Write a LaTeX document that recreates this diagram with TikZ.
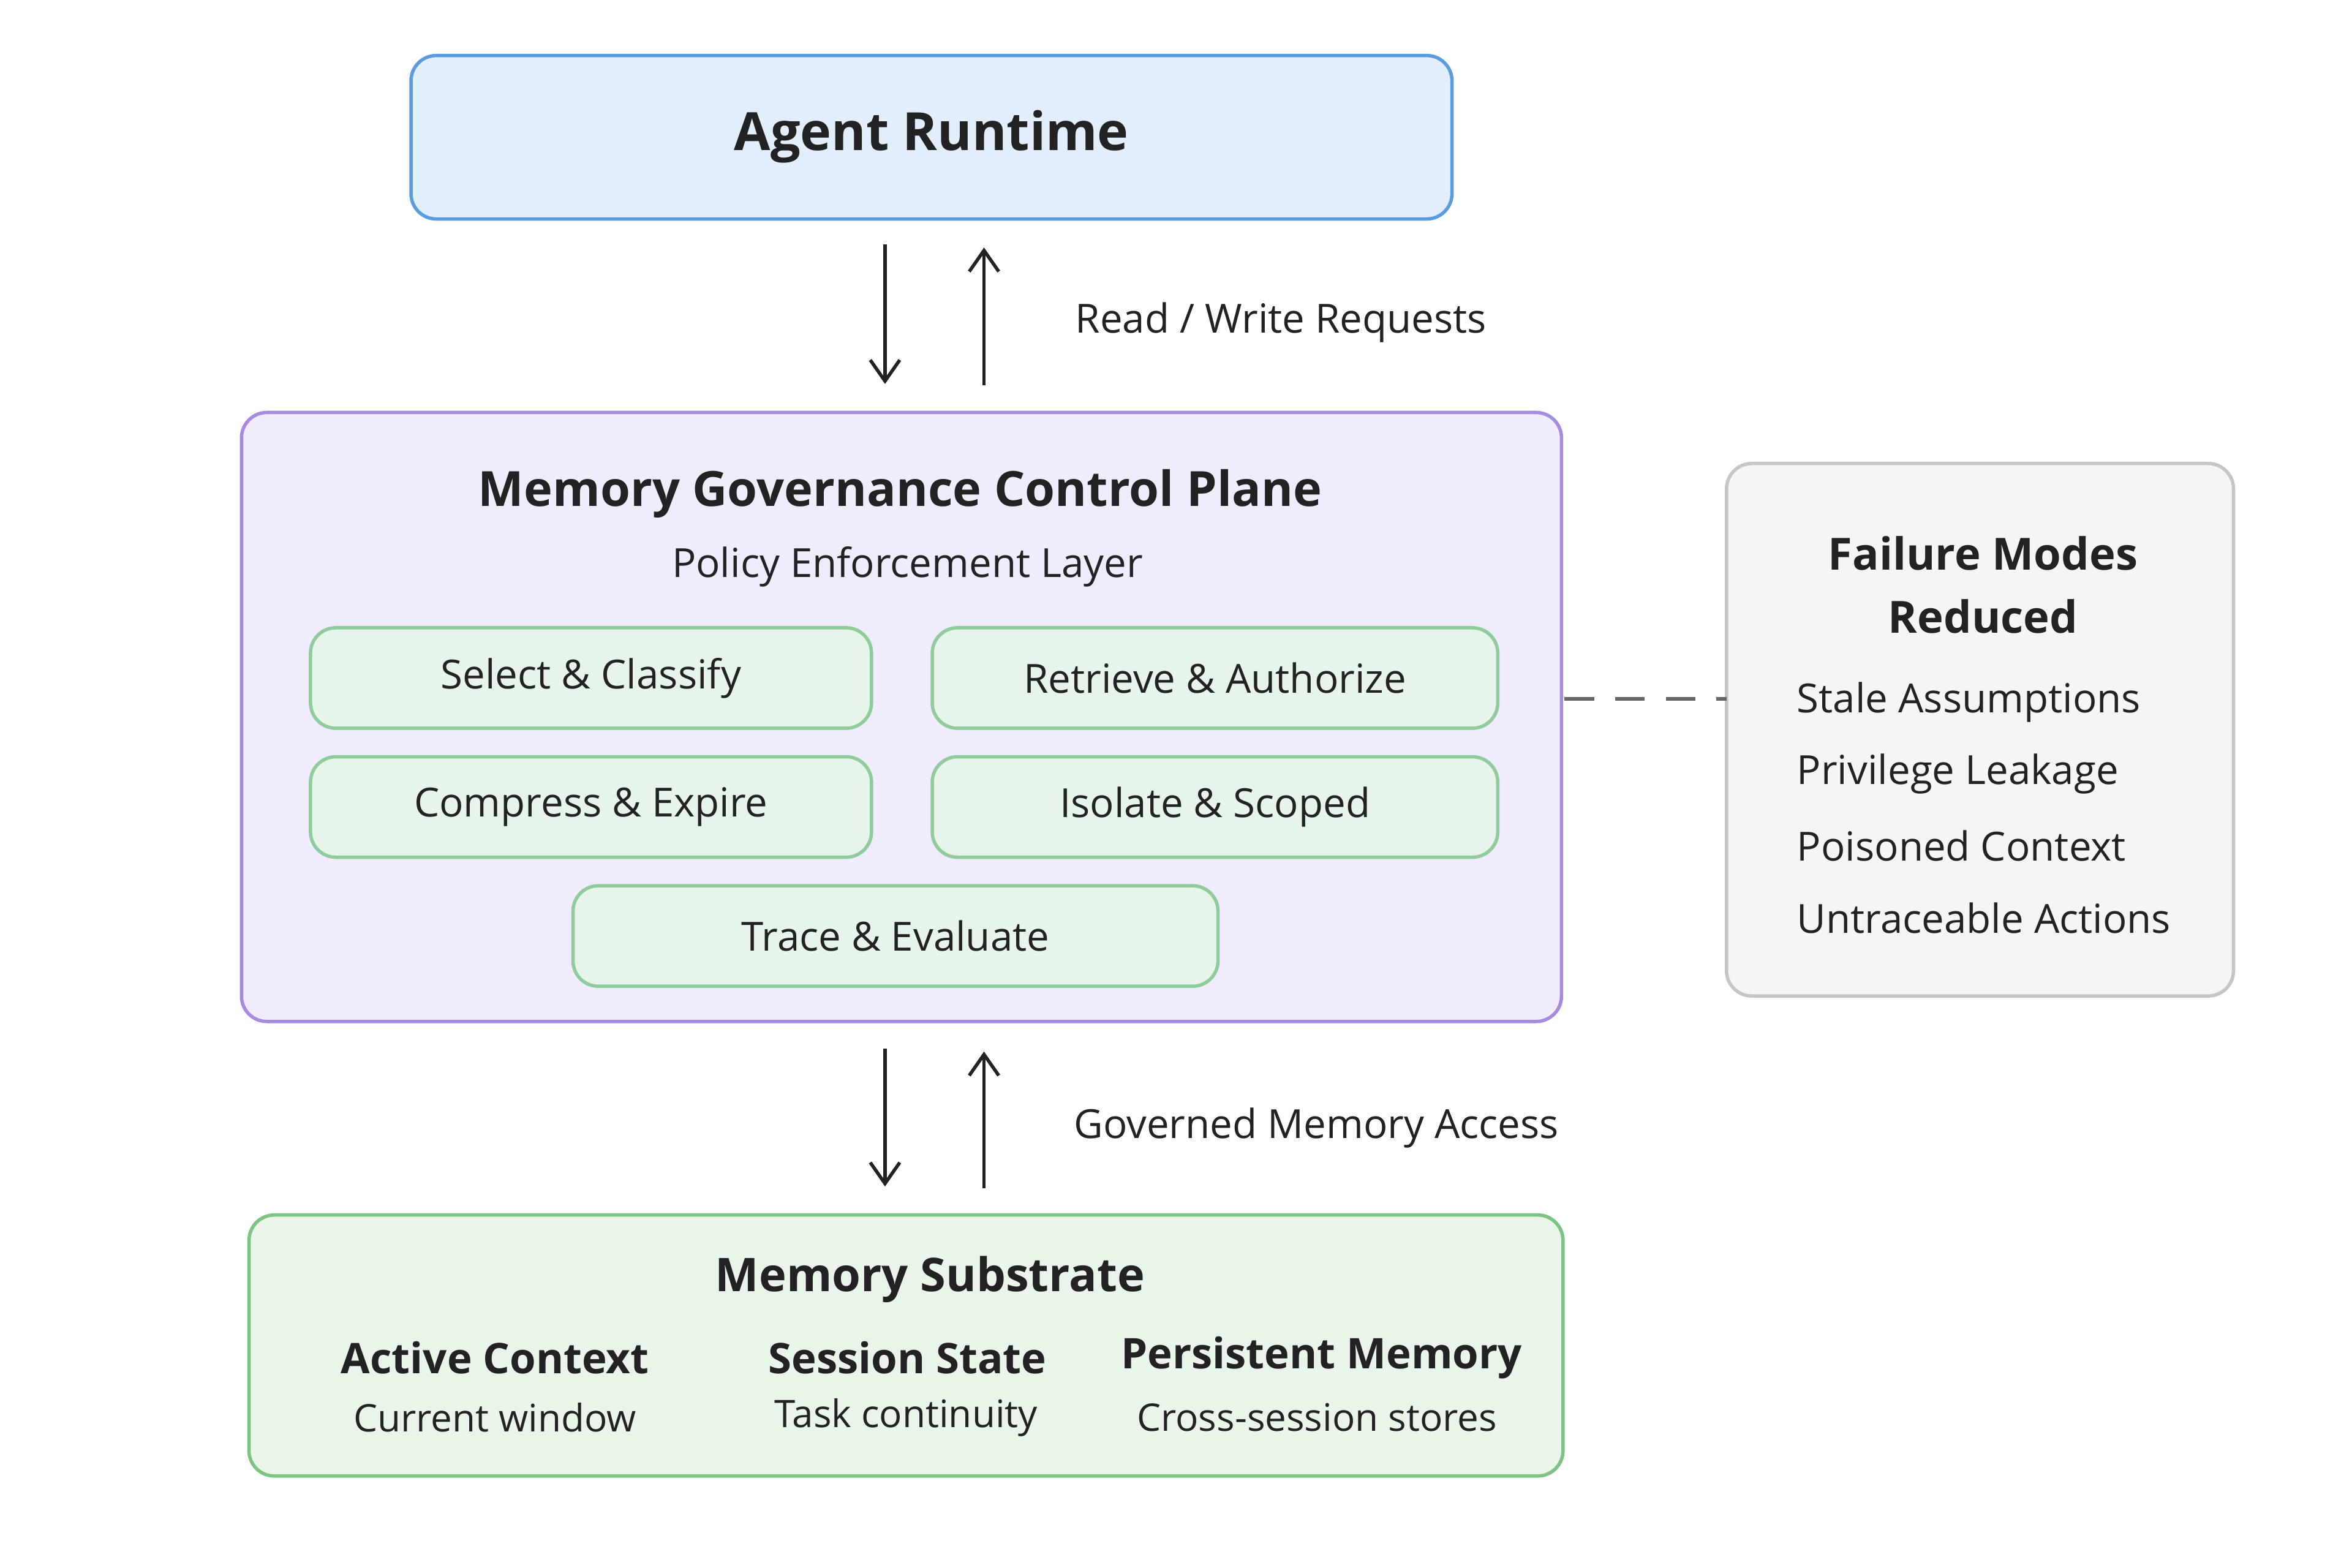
\documentclass[tikz,border=0pt]{standalone}
\usepackage{fontspec}
\setmainfont{Open Sans}
\usetikzlibrary{arrows.meta}
\definecolor{blueF}{HTML}{E3EEFC}\definecolor{blueD}{HTML}{5B9BE0}
\definecolor{purF}{HTML}{F1ECFD}\definecolor{purD}{HTML}{A78BE0}
\definecolor{grnF}{HTML}{E6F4EA}\definecolor{grnD}{HTML}{8FCB9B}
\definecolor{subF}{HTML}{EAF5EA}\definecolor{subD}{HTML}{7DC383}
\definecolor{gryF}{HTML}{F5F5F5}\definecolor{gryD}{HTML}{C6C6C6}
\definecolor{txt}{HTML}{222222}
\tikzset{
 box/.style={draw, line width=1.6pt, rounded corners=12pt},
 sub/.style={box, fill=grnF, draw=grnD, font=\fontsize{19}{23}\selectfont},
 flow/.style={-{Straight Barb[length=10pt,width=14pt]}, line width=1.6pt, txt},
 lbl/.style={anchor=west, font=\fontsize{19}{23}\selectfont, txt},
}
\begin{document}
\begin{tikzpicture}[x=0.025cm,y=-0.025cm, text=txt]
\useasboundingbox (0,0) rectangle (1568,1045);
\draw[box, fill=blueF, draw=blueD] (274,37) rectangle (968,146);
\node[font=\fontsize{25}{30}\selectfont\bfseries] (ar) at (621,91) {Agent Runtime};
\coordinate (a1) at (590,163); \coordinate (a2) at (590,256);
\coordinate (b1) at (656,257); \coordinate (b2) at (656,165);
\draw[flow] (a1) -- (a2); \draw[flow] (b1) -- (b2);
\node[lbl] (rw) at (712,215) {Read / Write Requests};

\draw[box, fill=purF, draw=purD] (161,275) rectangle (1041,681);
\node[font=\fontsize{23}{28}\selectfont\bfseries] (mg) at (600,329) {Memory Governance Control Plane};
\node[font=\fontsize{19}{23}\selectfont] (pe) at (605,378) {Policy Enforcement Layer};
\node[sub, minimum width=374*0.025cm, minimum height=67*0.025cm] (s1) at (394,452) {Select \& Classify};
\node[sub, minimum width=377*0.025cm, minimum height=67*0.025cm] (s2) at (810,452) {Retrieve \& Authorize};
\node[sub, minimum width=374*0.025cm, minimum height=67*0.025cm] (s3) at (394,538) {Compress \& Expire};
\node[sub, minimum width=377*0.025cm, minimum height=67*0.025cm] (s4) at (810,538) {Isolate \& Scoped};
\node[sub, minimum width=430*0.025cm, minimum height=67*0.025cm] (s5) at (597,624) {Trace \& Evaluate};

\coordinate (c1) at (590,699); \coordinate (c2) at (590,791);
\coordinate (d1) at (656,792); \coordinate (d2) at (656,701);
\draw[flow] (c1) -- (c2); \draw[flow] (d1) -- (d2);
\node[lbl] (gm) at (711,752) {Governed Memory Access};

\draw[box, fill=subF, draw=subD] (166,810) rectangle (1042,984);
\node[font=\fontsize{22}{26}\selectfont\bfseries] (ms) at (620,853) {Memory Substrate};
\node[font=\fontsize{20}{24}\selectfont\bfseries] (ac) at (330,905) {Active Context};
\node[font=\fontsize{18}{22}\selectfont] (cw) at (330,945) {Current window};
\node[font=\fontsize{20}{24}\selectfont\bfseries] (ss) at (605,905) {Session State};
\node[font=\fontsize{18}{22}\selectfont] (tc) at (604,945) {Task continuity};
\node[font=\fontsize{20}{24}\selectfont\bfseries] (pm) at (881,905) {Persistent Memory};
\node[font=\fontsize{18}{22}\selectfont] (cs) at (878,945) {Cross-session stores};

\draw[box, fill=gryF, draw=gryD] (1151,309) rectangle (1489,664);
\node[font=\fontsize{21}{30}\selectfont\bfseries, align=center] (fm) at (1322,390) {Failure Modes\\Reduced};
\foreach \t/\y/\n in {Stale Assumptions/468/f1, Privilege Leakage/516/f2, Poisoned Context/564/f3, Untraceable Actions/612/f4}
  \node[lbl] (\n) at (1193,\y) {\t};
\coordinate (e1) at (1043,466); \coordinate (e2) at (1151,466);
\draw[line width=1.6pt, gray!80!black, dash pattern=on 14pt off 10pt] (e1) -- (e2);
\end{tikzpicture}
\end{document}
